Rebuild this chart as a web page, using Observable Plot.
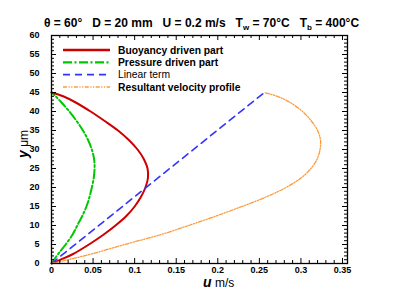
<!DOCTYPE html>
<html>
<head>
<meta charset="utf-8">
<script src="https://cdn.jsdelivr.net/npm/d3@7"></script>
<script src="https://cdn.jsdelivr.net/npm/@observablehq/plot@0.6"></script>
<style>
  html, body { margin: 0; padding: 0; background: #fff; }
  #chart svg { display: block; }
</style>
</head>
<body>
<div id="chart"></div>
<script>
// ---- data ----
const yLevels    = [0, 1, 2.5, 5, 7.5, 10, 12.5, 15, 17.5, 20, 22.5, 25, 27.5, 30, 32.5, 35, 37.5, 40, 42.5, 44, 45];
const buoyancy   = [0, 0.011, 0.026, 0.045, 0.062, 0.077, 0.090, 0.100, 0.1075, 0.113, 0.116, 0.1155, 0.111, 0.1035, 0.093, 0.080, 0.064, 0.047, 0.028, 0.014, 0];
const pressure   = [0, 0.003, 0.008, 0.017, 0.025, 0.031, 0.037, 0.042, 0.0457, 0.0485, 0.0508, 0.0518, 0.0512, 0.0485, 0.044, 0.0378, 0.0302, 0.0215, 0.0115, 0.005, 0];
const resultant  = [0, 0.020, 0.048, 0.088, 0.130, 0.165, 0.198, 0.229, 0.258, 0.282, 0.300, 0.312, 0.3195, 0.323, 0.3235, 0.320, 0.3125, 0.302, 0.286, 0.2715, 0.256];
const linearY    = [0, 45];
const linearU    = [0, 0.256];

const xMajor = [0, 0.05, 0.1, 0.15, 0.2, 0.25, 0.3, 0.35];
const xMinor = [0.01,0.02,0.03,0.04,0.06,0.07,0.08,0.09,0.11,0.12,0.13,0.14,0.16,0.17,0.18,0.19,0.21,0.22,0.23,0.24,0.26,0.27,0.28,0.29,0.31,0.32,0.33,0.34];
const yMajor = [0, 5, 10, 15, 20, 25, 30, 35, 40, 45, 50, 55, 60];
const yMinor = d3.range(0, 61).filter(v => v % 5 !== 0);

const seriesNames = ["Buoyancy driven part", "Pressure driven part", "Linear term", "Resultant velocity profile"];
const seriesColors = ["#cc0000", "#00c800", "#3333ff", "#ff9a3c"];

// ---- layout ----
const W = 395, H = 296;
const mT = 35, mB = 33, mL = 51, mR = 48;
const fW = W - mL - mR, fH = H - mT - mB;

const styleFor = [
  {stroke: seriesColors[0], strokeWidth: 2},
  {stroke: seriesColors[1], strokeWidth: 2, strokeDasharray: "9 2.5 2 2.5"},
  {stroke: seriesColors[2], strokeWidth: 1.6, strokeDasharray: "7 5"},
  {stroke: seriesColors[3], strokeWidth: 1.3, strokeDasharray: "4 1.5 1.2 1.5 1.2 1.5"}
];

const plot = Plot.plot({
  width: W, height: H,
  marginTop: mT, marginBottom: mB, marginLeft: mL, marginRight: mR,
  style: {fontFamily: "'Liberation Sans', Arial, sans-serif", fontSize: "9px", fontWeight: "bold", color: "black", background: "white"},
  x: {domain: [0, 0.356]},
  y: {domain: [0, 60]},
  marks: [
    Plot.line(yLevels, {x: (d, i) => pressure[i], y: d => d, curve: "catmull-rom", ...styleFor[1]}),
    Plot.line(yLevels, {x: (d, i) => buoyancy[i], y: d => d, curve: "catmull-rom", ...styleFor[0]}),
    Plot.line(linearY, {x: (d, i) => linearU[i], y: d => d, ...styleFor[2]}),
    Plot.line(yLevels, {x: (d, i) => resultant[i], y: d => d, curve: "catmull-rom", ...styleFor[3]}),
    // inward ticks, all four sides
    Plot.tickX(xMajor, {x: d => d, insetTop: fH - 5, stroke: "black", strokeWidth: 1}),
    Plot.tickX(xMajor, {x: d => d, insetBottom: fH - 5, stroke: "black", strokeWidth: 1}),
    Plot.tickX(xMinor, {x: d => d, insetTop: fH - 3, stroke: "black", strokeWidth: 1}),
    Plot.tickX(xMinor, {x: d => d, insetBottom: fH - 3, stroke: "black", strokeWidth: 1}),
    Plot.tickY(yMajor, {y: d => d, insetRight: fW - 5, stroke: "black", strokeWidth: 1}),
    Plot.tickY(yMajor, {y: d => d, insetLeft: fW - 5, stroke: "black", strokeWidth: 1}),
    Plot.tickY(yMinor, {y: d => d, insetRight: fW - 3, stroke: "black", strokeWidth: 1}),
    Plot.tickY(yMinor, {y: d => d, insetLeft: fW - 3, stroke: "black", strokeWidth: 1}),
    Plot.axisX({ticks: xMajor, tickSize: 0, tickPadding: 3, tickFormat: d => String(d), label: null}),
    Plot.axisY({ticks: yMajor, tickSize: 0, tickPadding: 12, tickFormat: d => String(d), label: null}),
    Plot.frame({stroke: "black", strokeWidth: 1.3})
  ]
});

document.getElementById("chart").appendChild(plot);

// ---- text and legend ----
const svg = d3.select(plot);
const FONT = "'Liberation Sans', Arial, sans-serif";

// title
const title = svg.append("text")
  .attr("x", 201.5).attr("y", 27)
  .attr("text-anchor", "middle")
  .attr("font-family", FONT).attr("font-size", 12).attr("font-weight", "bold")
  .attr("fill", "black")
  .style("white-space", "pre");
title.append("tspan").text("θ = 60°   D = 20 mm   U = 0.2 m/s   T");
title.append("tspan").attr("font-size", 8).attr("dy", 3).text("w");
title.append("tspan").attr("dy", -3).text(" = 70°C   T");
title.append("tspan").attr("font-size", 8).attr("dy", 3).text("b");
title.append("tspan").attr("dy", -3).text(" = 400°C");

// x-axis label
const xl = svg.append("text")
  .attr("x", 203).attr("y", 287)
  .attr("text-anchor", "start")
  .attr("font-family", FONT).attr("fill", "black")
  .style("white-space", "pre");
xl.append("tspan").attr("font-size", 14).attr("font-weight", "bold").attr("font-style", "italic").text("u");
xl.append("tspan").attr("font-size", 12).attr("font-weight", "normal").text(" m/s");

// y-axis label
const yl = svg.append("text")
  .attr("transform", "translate(28,158) rotate(-90)")
  .attr("text-anchor", "start")
  .attr("font-family", FONT).attr("fill", "black")
  .style("white-space", "pre");
yl.append("tspan").attr("font-size", 14).attr("font-weight", "bold").attr("font-style", "italic").text("y");
yl.append("tspan").attr("font-size", 12).attr("font-weight", "normal").text(" μm");

// legend
const legY = [50, 62.3, 74.6, 87];
const legWeights = ["bold", "bold", "normal", "bold"];
const leg = svg.append("g");
seriesNames.forEach((name, i) => {
  const s = styleFor[i];
  leg.append("line")
    .attr("x1", 63).attr("x2", 110).attr("y1", legY[i]).attr("y2", legY[i])
    .attr("stroke", s.stroke).attr("stroke-width", i === 0 ? 2.4 : s.strokeWidth + 0.3)
    .attr("stroke-dasharray", s.strokeDasharray || null);
  leg.append("text")
    .attr("x", 118).attr("y", legY[i] + 3.7)
    .attr("text-anchor", "start")
    .attr("font-family", FONT).attr("font-size", 10.3).attr("font-weight", legWeights[i])
    .attr("fill", "black")
    .text(name);
});
</script>
</body>
</html>
